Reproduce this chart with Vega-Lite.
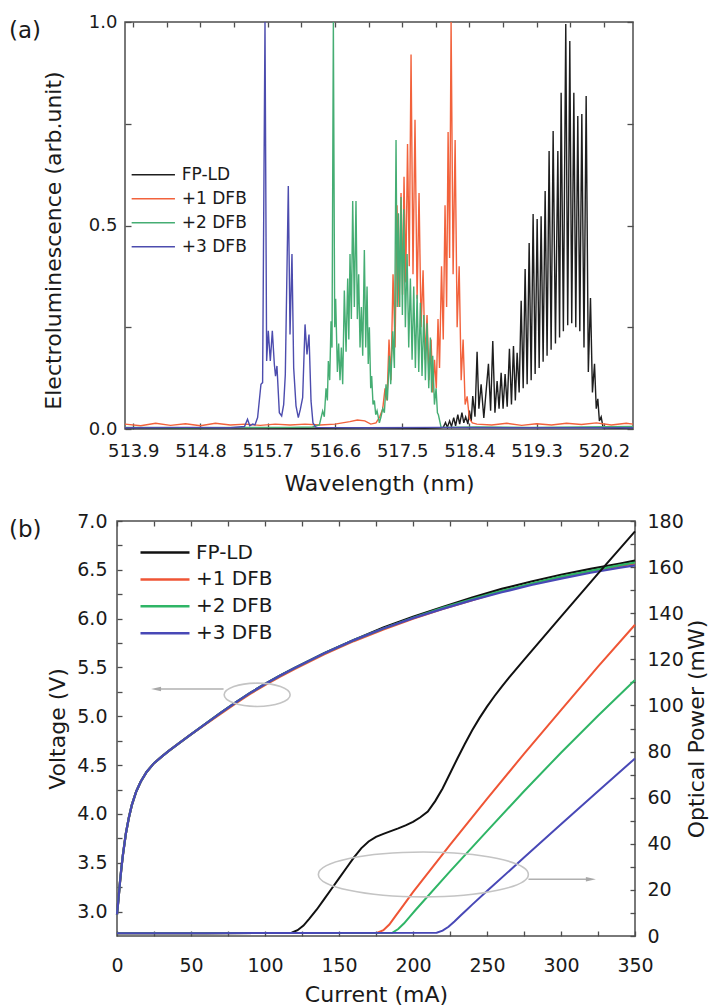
{
  "$schema": "https://vega.github.io/schema/vega-lite/v6.json",
  "background": "white",
  "padding": {"left": 8, "top": 12, "right": 0, "bottom": 0},
  "spacing": 16,
  "config": {
    "font": "DejaVu Sans",
    "view": {"stroke": "#4d4d4d", "strokeWidth": 1.5},
    "axis": {"domain": false, "grid": false, "tickColor": "#4d4d4d", "tickWidth": 1.3, "labelColor": "#1a1a1a", "titleColor": "#1a1a1a", "titleFontWeight": "normal", "labelFlush": false, "labelOverlap": false, "labelBound": false},
    "legend": {"labelColor": "#1a1a1a"},
    "title": {"fontWeight": "normal", "color": "#1a1a1a"}
  },
  "resolve": {"scale": {"color": "independent"}, "legend": {"color": "independent"}},
  "datasets": {
    "spec": [
      {"s":"FP-LD","w":513.79,"v":0.003},{"s":"FP-LD","w":514.6,"v":0.002},{"s":"FP-LD","w":515.4,"v":0.003},{"s":"FP-LD","w":516.2,"v":0.002},{"s":"FP-LD","w":517.0,"v":0.003},{"s":"FP-LD","w":517.8,"v":0.002},{"s":"FP-LD","w":518.0,"v":0.003},{"s":"FP-LD","w":518.05,"v":0.004},{"s":"FP-LD","w":518.08,"v":0.016},{"s":"FP-LD","w":518.105,"v":0.004},{"s":"FP-LD","w":518.135,"v":0.02},{"s":"FP-LD","w":518.16,"v":0.006},{"s":"FP-LD","w":518.19,"v":0.028},{"s":"FP-LD","w":518.215,"v":0.008},{"s":"FP-LD","w":518.245,"v":0.035},{"s":"FP-LD","w":518.27,"v":0.012},{"s":"FP-LD","w":518.3,"v":0.04},{"s":"FP-LD","w":518.325,"v":0.015},{"s":"FP-LD","w":518.35,"v":0.03},{"s":"FP-LD","w":518.38,"v":0.012},{"s":"FP-LD","w":518.4,"v":0.045},{"s":"FP-LD","w":518.425,"v":0.02},{"s":"FP-LD","w":518.445,"v":0.081},{"s":"FP-LD","w":518.475,"v":0.03},{"s":"FP-LD","w":518.503,"v":0.19},{"s":"FP-LD","w":518.527,"v":0.05},{"s":"FP-LD","w":518.557,"v":0.11},{"s":"FP-LD","w":518.593,"v":0.027},{"s":"FP-LD","w":518.655,"v":0.16},{"s":"FP-LD","w":518.684,"v":0.045},{"s":"FP-LD","w":518.713,"v":0.216},{"s":"FP-LD","w":518.742,"v":0.04},{"s":"FP-LD","w":518.771,"v":0.118},{"s":"FP-LD","w":518.797,"v":0.05},{"s":"FP-LD","w":518.825,"v":0.138},{"s":"FP-LD","w":518.851,"v":0.05},{"s":"FP-LD","w":518.878,"v":0.135},{"s":"FP-LD","w":518.906,"v":0.055},{"s":"FP-LD","w":518.936,"v":0.197},{"s":"FP-LD","w":518.963,"v":0.06},{"s":"FP-LD","w":518.99,"v":0.204},{"s":"FP-LD","w":519.015,"v":0.07},{"s":"FP-LD","w":519.039,"v":0.187},{"s":"FP-LD","w":519.066,"v":0.09},{"s":"FP-LD","w":519.093,"v":0.315},{"s":"FP-LD","w":519.12,"v":0.1},{"s":"FP-LD","w":519.146,"v":0.393},{"s":"FP-LD","w":519.173,"v":0.11},{"s":"FP-LD","w":519.2,"v":0.457},{"s":"FP-LD","w":519.227,"v":0.12},{"s":"FP-LD","w":519.253,"v":0.528},{"s":"FP-LD","w":519.28,"v":0.135},{"s":"FP-LD","w":519.307,"v":0.516},{"s":"FP-LD","w":519.334,"v":0.15},{"s":"FP-LD","w":519.36,"v":0.523},{"s":"FP-LD","w":519.387,"v":0.165},{"s":"FP-LD","w":519.414,"v":0.585},{"s":"FP-LD","w":519.44,"v":0.18},{"s":"FP-LD","w":519.467,"v":0.683},{"s":"FP-LD","w":519.494,"v":0.195},{"s":"FP-LD","w":519.521,"v":0.732},{"s":"FP-LD","w":519.552,"v":0.21},{"s":"FP-LD","w":519.584,"v":0.683},{"s":"FP-LD","w":519.607,"v":0.225},{"s":"FP-LD","w":519.628,"v":0.826},{"s":"FP-LD","w":519.658,"v":0.24},{"s":"FP-LD","w":519.69,"v":0.995},{"s":"FP-LD","w":519.716,"v":0.255},{"s":"FP-LD","w":519.744,"v":0.953},{"s":"FP-LD","w":519.77,"v":0.26},{"s":"FP-LD","w":519.798,"v":0.826},{"s":"FP-LD","w":519.824,"v":0.25},{"s":"FP-LD","w":519.851,"v":0.769},{"s":"FP-LD","w":519.878,"v":0.24},{"s":"FP-LD","w":519.905,"v":0.774},{"s":"FP-LD","w":519.934,"v":0.2},{"s":"FP-LD","w":519.963,"v":0.818},{"s":"FP-LD","w":519.992,"v":0.14},{"s":"FP-LD","w":520.021,"v":0.322},{"s":"FP-LD","w":520.047,"v":0.09},{"s":"FP-LD","w":520.075,"v":0.16},{"s":"FP-LD","w":520.098,"v":0.05},{"s":"FP-LD","w":520.119,"v":0.074},{"s":"FP-LD","w":520.14,"v":0.02},{"s":"FP-LD","w":520.164,"v":0.03},{"s":"FP-LD","w":520.19,"v":0.003},{"s":"FP-LD","w":520.4,"v":0.002},{"s":"FP-LD","w":520.59,"v":0.003},
      {"s":"+1 DFB","w":513.79,"v":0.012},{"s":"+1 DFB","w":514.0,"v":0.008},{"s":"+1 DFB","w":514.2,"v":0.014},{"s":"+1 DFB","w":514.4,"v":0.009},{"s":"+1 DFB","w":514.6,"v":0.013},{"s":"+1 DFB","w":514.8,"v":0.008},{"s":"+1 DFB","w":515.0,"v":0.014},{"s":"+1 DFB","w":515.2,"v":0.01},{"s":"+1 DFB","w":515.4,"v":0.012},{"s":"+1 DFB","w":515.6,"v":0.009},{"s":"+1 DFB","w":515.8,"v":0.012},{"s":"+1 DFB","w":516.0,"v":0.01},{"s":"+1 DFB","w":516.2,"v":0.012},{"s":"+1 DFB","w":516.4,"v":0.01},{"s":"+1 DFB","w":516.6,"v":0.012},{"s":"+1 DFB","w":516.8,"v":0.018},{"s":"+1 DFB","w":516.9,"v":0.022},{"s":"+1 DFB","w":517.0,"v":0.02},{"s":"+1 DFB","w":517.08,"v":0.012},{"s":"+1 DFB","w":517.15,"v":0.015},{"s":"+1 DFB","w":517.2,"v":0.03},{"s":"+1 DFB","w":517.24,"v":0.05},{"s":"+1 DFB","w":517.271,"v":0.1},{"s":"+1 DFB","w":517.297,"v":0.07},{"s":"+1 DFB","w":517.324,"v":0.22},{"s":"+1 DFB","w":517.35,"v":0.12},{"s":"+1 DFB","w":517.378,"v":0.38},{"s":"+1 DFB","w":517.405,"v":0.2},{"s":"+1 DFB","w":517.431,"v":0.55},{"s":"+1 DFB","w":517.458,"v":0.3},{"s":"+1 DFB","w":517.485,"v":0.58},{"s":"+1 DFB","w":517.505,"v":0.33},{"s":"+1 DFB","w":517.525,"v":0.62},{"s":"+1 DFB","w":517.548,"v":0.36},{"s":"+1 DFB","w":517.572,"v":0.7},{"s":"+1 DFB","w":517.595,"v":0.4},{"s":"+1 DFB","w":517.619,"v":0.92},{"s":"+1 DFB","w":517.645,"v":0.38},{"s":"+1 DFB","w":517.672,"v":0.76},{"s":"+1 DFB","w":517.7,"v":0.32},{"s":"+1 DFB","w":517.726,"v":0.58},{"s":"+1 DFB","w":517.753,"v":0.25},{"s":"+1 DFB","w":517.78,"v":0.39},{"s":"+1 DFB","w":517.806,"v":0.17},{"s":"+1 DFB","w":517.833,"v":0.28},{"s":"+1 DFB","w":517.86,"v":0.12},{"s":"+1 DFB","w":517.887,"v":0.22},{"s":"+1 DFB","w":517.91,"v":0.09},{"s":"+1 DFB","w":517.933,"v":0.17},{"s":"+1 DFB","w":517.957,"v":0.1},{"s":"+1 DFB","w":517.98,"v":0.27},{"s":"+1 DFB","w":518.0,"v":0.15},{"s":"+1 DFB","w":518.027,"v":0.4},{"s":"+1 DFB","w":518.05,"v":0.22},{"s":"+1 DFB","w":518.074,"v":0.55},{"s":"+1 DFB","w":518.095,"v":0.3},{"s":"+1 DFB","w":518.115,"v":0.73},{"s":"+1 DFB","w":518.135,"v":0.42},{"s":"+1 DFB","w":518.155,"v":1.0},{"s":"+1 DFB","w":518.182,"v":0.38},{"s":"+1 DFB","w":518.209,"v":0.71},{"s":"+1 DFB","w":518.236,"v":0.25},{"s":"+1 DFB","w":518.263,"v":0.4},{"s":"+1 DFB","w":518.29,"v":0.12},{"s":"+1 DFB","w":518.316,"v":0.22},{"s":"+1 DFB","w":518.343,"v":0.06},{"s":"+1 DFB","w":518.37,"v":0.08},{"s":"+1 DFB","w":518.4,"v":0.025},{"s":"+1 DFB","w":518.44,"v":0.015},{"s":"+1 DFB","w":518.5,"v":0.012},{"s":"+1 DFB","w":518.7,"v":0.01},{"s":"+1 DFB","w":518.9,"v":0.014},{"s":"+1 DFB","w":519.1,"v":0.009},{"s":"+1 DFB","w":519.3,"v":0.013},{"s":"+1 DFB","w":519.5,"v":0.01},{"s":"+1 DFB","w":519.7,"v":0.014},{"s":"+1 DFB","w":519.9,"v":0.011},{"s":"+1 DFB","w":520.1,"v":0.015},{"s":"+1 DFB","w":520.3,"v":0.01},{"s":"+1 DFB","w":520.5,"v":0.014},{"s":"+1 DFB","w":520.59,"v":0.012},
      {"s":"+2 DFB","w":513.79,"v":0.004},{"s":"+2 DFB","w":514.6,"v":0.003},{"s":"+2 DFB","w":515.4,"v":0.004},{"s":"+2 DFB","w":516.0,"v":0.004},{"s":"+2 DFB","w":516.3,"v":0.005},{"s":"+2 DFB","w":516.392,"v":0.01},{"s":"+2 DFB","w":516.436,"v":0.044},{"s":"+2 DFB","w":516.458,"v":0.03},{"s":"+2 DFB","w":516.481,"v":0.1},{"s":"+2 DFB","w":516.499,"v":0.07},{"s":"+2 DFB","w":516.512,"v":0.167},{"s":"+2 DFB","w":516.53,"v":0.12},{"s":"+2 DFB","w":516.548,"v":0.265},{"s":"+2 DFB","w":516.561,"v":0.2},{"s":"+2 DFB","w":516.579,"v":1.0},{"s":"+2 DFB","w":516.597,"v":0.25},{"s":"+2 DFB","w":516.61,"v":0.32},{"s":"+2 DFB","w":516.633,"v":0.14},{"s":"+2 DFB","w":516.65,"v":0.21},{"s":"+2 DFB","w":516.668,"v":0.12},{"s":"+2 DFB","w":516.686,"v":0.2},{"s":"+2 DFB","w":516.704,"v":0.11},{"s":"+2 DFB","w":516.726,"v":0.34},{"s":"+2 DFB","w":516.749,"v":0.19},{"s":"+2 DFB","w":516.771,"v":0.37},{"s":"+2 DFB","w":516.786,"v":0.22},{"s":"+2 DFB","w":516.802,"v":0.43},{"s":"+2 DFB","w":516.82,"v":0.27},{"s":"+2 DFB","w":516.838,"v":0.56},{"s":"+2 DFB","w":516.86,"v":0.3},{"s":"+2 DFB","w":516.882,"v":0.56},{"s":"+2 DFB","w":516.9,"v":0.27},{"s":"+2 DFB","w":516.918,"v":0.38},{"s":"+2 DFB","w":516.936,"v":0.2},{"s":"+2 DFB","w":516.954,"v":0.3},{"s":"+2 DFB","w":516.972,"v":0.18},{"s":"+2 DFB","w":516.994,"v":0.44},{"s":"+2 DFB","w":517.012,"v":0.2},{"s":"+2 DFB","w":517.03,"v":0.35},{"s":"+2 DFB","w":517.046,"v":0.16},{"s":"+2 DFB","w":517.061,"v":0.25},{"s":"+2 DFB","w":517.079,"v":0.1},{"s":"+2 DFB","w":517.092,"v":0.13},{"s":"+2 DFB","w":517.11,"v":0.06},{"s":"+2 DFB","w":517.128,"v":0.07},{"s":"+2 DFB","w":517.146,"v":0.035},{"s":"+2 DFB","w":517.164,"v":0.045},{"s":"+2 DFB","w":517.195,"v":0.015},{"s":"+2 DFB","w":517.217,"v":0.03},{"s":"+2 DFB","w":517.24,"v":0.05},{"s":"+2 DFB","w":517.262,"v":0.04},{"s":"+2 DFB","w":517.284,"v":0.11},{"s":"+2 DFB","w":517.302,"v":0.07},{"s":"+2 DFB","w":517.329,"v":0.18},{"s":"+2 DFB","w":517.347,"v":0.11},{"s":"+2 DFB","w":517.374,"v":0.24},{"s":"+2 DFB","w":517.396,"v":0.15},{"s":"+2 DFB","w":517.418,"v":0.71},{"s":"+2 DFB","w":517.434,"v":0.3},{"s":"+2 DFB","w":517.45,"v":0.53},{"s":"+2 DFB","w":517.467,"v":0.3},{"s":"+2 DFB","w":517.485,"v":0.57},{"s":"+2 DFB","w":517.503,"v":0.28},{"s":"+2 DFB","w":517.521,"v":0.54},{"s":"+2 DFB","w":517.543,"v":0.25},{"s":"+2 DFB","w":517.566,"v":0.43},{"s":"+2 DFB","w":517.588,"v":0.2},{"s":"+2 DFB","w":517.61,"v":0.37},{"s":"+2 DFB","w":517.633,"v":0.17},{"s":"+2 DFB","w":517.655,"v":0.35},{"s":"+2 DFB","w":517.677,"v":0.15},{"s":"+2 DFB","w":517.7,"v":0.33},{"s":"+2 DFB","w":517.722,"v":0.14},{"s":"+2 DFB","w":517.744,"v":0.31},{"s":"+2 DFB","w":517.766,"v":0.13},{"s":"+2 DFB","w":517.789,"v":0.28},{"s":"+2 DFB","w":517.811,"v":0.12},{"s":"+2 DFB","w":517.833,"v":0.26},{"s":"+2 DFB","w":517.856,"v":0.1},{"s":"+2 DFB","w":517.878,"v":0.225},{"s":"+2 DFB","w":517.894,"v":0.09},{"s":"+2 DFB","w":517.909,"v":0.18},{"s":"+2 DFB","w":517.932,"v":0.06},{"s":"+2 DFB","w":517.954,"v":0.1},{"s":"+2 DFB","w":517.972,"v":0.04},{"s":"+2 DFB","w":517.985,"v":0.035},{"s":"+2 DFB","w":518.021,"v":0.004},{"s":"+2 DFB","w":518.5,"v":0.005},{"s":"+2 DFB","w":519.2,"v":0.004},{"s":"+2 DFB","w":519.9,"v":0.005},{"s":"+2 DFB","w":520.59,"v":0.006},
      {"s":"+3 DFB","w":513.79,"v":0.003},{"s":"+3 DFB","w":514.6,"v":0.004},{"s":"+3 DFB","w":515.2,"v":0.003},{"s":"+3 DFB","w":515.39,"v":0.006},{"s":"+3 DFB","w":515.43,"v":0.024},{"s":"+3 DFB","w":515.46,"v":0.008},{"s":"+3 DFB","w":515.5,"v":0.012},{"s":"+3 DFB","w":515.53,"v":0.01},{"s":"+3 DFB","w":515.565,"v":0.028},{"s":"+3 DFB","w":515.61,"v":0.11},{"s":"+3 DFB","w":515.632,"v":0.114},{"s":"+3 DFB","w":515.664,"v":1.0},{"s":"+3 DFB","w":515.686,"v":0.167},{"s":"+3 DFB","w":515.708,"v":0.241},{"s":"+3 DFB","w":515.735,"v":0.167},{"s":"+3 DFB","w":515.762,"v":0.241},{"s":"+3 DFB","w":515.789,"v":0.159},{"s":"+3 DFB","w":515.805,"v":0.13},{"s":"+3 DFB","w":515.824,"v":0.155},{"s":"+3 DFB","w":515.856,"v":0.04},{"s":"+3 DFB","w":515.887,"v":0.032},{"s":"+3 DFB","w":515.914,"v":0.06},{"s":"+3 DFB","w":515.936,"v":0.134},{"s":"+3 DFB","w":515.976,"v":0.597},{"s":"+3 DFB","w":515.999,"v":0.232},{"s":"+3 DFB","w":516.025,"v":0.43},{"s":"+3 DFB","w":516.048,"v":0.15},{"s":"+3 DFB","w":516.079,"v":0.057},{"s":"+3 DFB","w":516.11,"v":0.028},{"s":"+3 DFB","w":516.137,"v":0.048},{"s":"+3 DFB","w":516.168,"v":0.077},{"s":"+3 DFB","w":516.2,"v":0.257},{"s":"+3 DFB","w":516.226,"v":0.183},{"s":"+3 DFB","w":516.253,"v":0.232},{"s":"+3 DFB","w":516.28,"v":0.069},{"s":"+3 DFB","w":516.306,"v":0.015},{"s":"+3 DFB","w":516.347,"v":0.004},{"s":"+3 DFB","w":517.0,"v":0.003},{"s":"+3 DFB","w":518.0,"v":0.004},{"s":"+3 DFB","w":519.0,"v":0.003},{"s":"+3 DFB","w":520.59,"v":0.003}
    ],
    "iv": [
      {"s":"FP-LD","i":0,"v":2.97},{"s":"FP-LD","i":1,"v":3.13},{"s":"FP-LD","i":2,"v":3.3},{"s":"FP-LD","i":3,"v":3.45},{"s":"FP-LD","i":4,"v":3.58},{"s":"FP-LD","i":6,"v":3.8},{"s":"FP-LD","i":8,"v":3.96},{"s":"FP-LD","i":10,"v":4.09},{"s":"FP-LD","i":13,"v":4.23},{"s":"FP-LD","i":16,"v":4.33},{"s":"FP-LD","i":20,"v":4.43},{"s":"FP-LD","i":25,"v":4.52},{"s":"FP-LD","i":30,"v":4.585},{"s":"FP-LD","i":35,"v":4.645},{"s":"FP-LD","i":42,"v":4.725},{"s":"FP-LD","i":50,"v":4.815},{"s":"FP-LD","i":60,"v":4.925},{"s":"FP-LD","i":70,"v":5.035},{"s":"FP-LD","i":80,"v":5.14},{"s":"FP-LD","i":90,"v":5.24},{"s":"FP-LD","i":100,"v":5.33},{"s":"FP-LD","i":110,"v":5.415},{"s":"FP-LD","i":120,"v":5.495},{"s":"FP-LD","i":140,"v":5.645},{"s":"FP-LD","i":160,"v":5.78},{"s":"FP-LD","i":180,"v":5.91},{"s":"FP-LD","i":200,"v":6.02},{"s":"FP-LD","i":220,"v":6.12},{"s":"FP-LD","i":240,"v":6.215},{"s":"FP-LD","i":260,"v":6.305},{"s":"FP-LD","i":280,"v":6.38},{"s":"FP-LD","i":300,"v":6.45},{"s":"FP-LD","i":320,"v":6.51},{"s":"FP-LD","i":340,"v":6.565},{"s":"FP-LD","i":350,"v":6.595},
      {"s":"+1 DFB","i":0,"v":2.97},{"s":"+1 DFB","i":1,"v":3.13},{"s":"+1 DFB","i":2,"v":3.3},{"s":"+1 DFB","i":3,"v":3.45},{"s":"+1 DFB","i":4,"v":3.58},{"s":"+1 DFB","i":6,"v":3.8},{"s":"+1 DFB","i":8,"v":3.96},{"s":"+1 DFB","i":10,"v":4.09},{"s":"+1 DFB","i":13,"v":4.23},{"s":"+1 DFB","i":16,"v":4.33},{"s":"+1 DFB","i":20,"v":4.43},{"s":"+1 DFB","i":25,"v":4.52},{"s":"+1 DFB","i":30,"v":4.585},{"s":"+1 DFB","i":35,"v":4.645},{"s":"+1 DFB","i":42,"v":4.725},{"s":"+1 DFB","i":50,"v":4.815},{"s":"+1 DFB","i":60,"v":4.92},{"s":"+1 DFB","i":70,"v":5.025},{"s":"+1 DFB","i":80,"v":5.13},{"s":"+1 DFB","i":90,"v":5.23},{"s":"+1 DFB","i":100,"v":5.32},{"s":"+1 DFB","i":110,"v":5.405},{"s":"+1 DFB","i":120,"v":5.485},{"s":"+1 DFB","i":140,"v":5.635},{"s":"+1 DFB","i":160,"v":5.77},{"s":"+1 DFB","i":180,"v":5.89},{"s":"+1 DFB","i":200,"v":6.0},{"s":"+1 DFB","i":220,"v":6.1},{"s":"+1 DFB","i":240,"v":6.19},{"s":"+1 DFB","i":260,"v":6.28},{"s":"+1 DFB","i":280,"v":6.355},{"s":"+1 DFB","i":300,"v":6.425},{"s":"+1 DFB","i":320,"v":6.485},{"s":"+1 DFB","i":340,"v":6.54},{"s":"+1 DFB","i":350,"v":6.565},
      {"s":"+2 DFB","i":0,"v":2.97},{"s":"+2 DFB","i":1,"v":3.13},{"s":"+2 DFB","i":2,"v":3.3},{"s":"+2 DFB","i":3,"v":3.45},{"s":"+2 DFB","i":4,"v":3.58},{"s":"+2 DFB","i":6,"v":3.8},{"s":"+2 DFB","i":8,"v":3.96},{"s":"+2 DFB","i":10,"v":4.09},{"s":"+2 DFB","i":13,"v":4.23},{"s":"+2 DFB","i":16,"v":4.33},{"s":"+2 DFB","i":20,"v":4.43},{"s":"+2 DFB","i":25,"v":4.52},{"s":"+2 DFB","i":30,"v":4.585},{"s":"+2 DFB","i":35,"v":4.645},{"s":"+2 DFB","i":42,"v":4.725},{"s":"+2 DFB","i":50,"v":4.815},{"s":"+2 DFB","i":60,"v":4.925},{"s":"+2 DFB","i":70,"v":5.035},{"s":"+2 DFB","i":80,"v":5.14},{"s":"+2 DFB","i":90,"v":5.24},{"s":"+2 DFB","i":100,"v":5.33},{"s":"+2 DFB","i":110,"v":5.415},{"s":"+2 DFB","i":120,"v":5.495},{"s":"+2 DFB","i":140,"v":5.645},{"s":"+2 DFB","i":160,"v":5.78},{"s":"+2 DFB","i":180,"v":5.9},{"s":"+2 DFB","i":200,"v":6.01},{"s":"+2 DFB","i":220,"v":6.11},{"s":"+2 DFB","i":240,"v":6.2},{"s":"+2 DFB","i":260,"v":6.285},{"s":"+2 DFB","i":280,"v":6.36},{"s":"+2 DFB","i":300,"v":6.43},{"s":"+2 DFB","i":320,"v":6.49},{"s":"+2 DFB","i":340,"v":6.548},{"s":"+2 DFB","i":350,"v":6.575},
      {"s":"+3 DFB","i":0,"v":2.97},{"s":"+3 DFB","i":1,"v":3.13},{"s":"+3 DFB","i":2,"v":3.3},{"s":"+3 DFB","i":3,"v":3.45},{"s":"+3 DFB","i":4,"v":3.58},{"s":"+3 DFB","i":6,"v":3.8},{"s":"+3 DFB","i":8,"v":3.96},{"s":"+3 DFB","i":10,"v":4.09},{"s":"+3 DFB","i":13,"v":4.23},{"s":"+3 DFB","i":16,"v":4.33},{"s":"+3 DFB","i":20,"v":4.43},{"s":"+3 DFB","i":25,"v":4.52},{"s":"+3 DFB","i":30,"v":4.585},{"s":"+3 DFB","i":35,"v":4.645},{"s":"+3 DFB","i":42,"v":4.725},{"s":"+3 DFB","i":50,"v":4.815},{"s":"+3 DFB","i":60,"v":4.925},{"s":"+3 DFB","i":70,"v":5.035},{"s":"+3 DFB","i":80,"v":5.14},{"s":"+3 DFB","i":90,"v":5.24},{"s":"+3 DFB","i":100,"v":5.33},{"s":"+3 DFB","i":110,"v":5.415},{"s":"+3 DFB","i":120,"v":5.495},{"s":"+3 DFB","i":140,"v":5.645},{"s":"+3 DFB","i":160,"v":5.78},{"s":"+3 DFB","i":180,"v":5.9},{"s":"+3 DFB","i":200,"v":6.005},{"s":"+3 DFB","i":220,"v":6.1},{"s":"+3 DFB","i":240,"v":6.19},{"s":"+3 DFB","i":260,"v":6.27},{"s":"+3 DFB","i":280,"v":6.345},{"s":"+3 DFB","i":300,"v":6.41},{"s":"+3 DFB","i":320,"v":6.47},{"s":"+3 DFB","i":340,"v":6.522},{"s":"+3 DFB","i":350,"v":6.545}
    ],
    "liv": [
      {"s":"FP-LD","i":0,"p":1.2},{"s":"FP-LD","i":60,"p":1.2},{"s":"FP-LD","i":118,"p":1.4},{"s":"FP-LD","i":122,"p":2.5},{"s":"FP-LD","i":126,"p":4.5},{"s":"FP-LD","i":130,"p":7.5},{"s":"FP-LD","i":135,"p":11.5},{"s":"FP-LD","i":140,"p":16},{"s":"FP-LD","i":145,"p":20.5},{"s":"FP-LD","i":150,"p":25},{"s":"FP-LD","i":155,"p":29.5},{"s":"FP-LD","i":160,"p":34},{"s":"FP-LD","i":165,"p":38},{"s":"FP-LD","i":170,"p":41},{"s":"FP-LD","i":175,"p":43},{"s":"FP-LD","i":180,"p":44.3},{"s":"FP-LD","i":185,"p":45.5},{"s":"FP-LD","i":190,"p":46.7},{"s":"FP-LD","i":195,"p":48},{"s":"FP-LD","i":200,"p":49.5},{"s":"FP-LD","i":205,"p":51.5},{"s":"FP-LD","i":210,"p":54},{"s":"FP-LD","i":215,"p":58.5},{"s":"FP-LD","i":220,"p":64},{"s":"FP-LD","i":225,"p":70.5},{"s":"FP-LD","i":230,"p":77},{"s":"FP-LD","i":235,"p":83.3},{"s":"FP-LD","i":240,"p":89.2},{"s":"FP-LD","i":245,"p":94.6},{"s":"FP-LD","i":250,"p":99.5},{"s":"FP-LD","i":255,"p":104},{"s":"FP-LD","i":260,"p":108.2},{"s":"FP-LD","i":265,"p":112.2},{"s":"FP-LD","i":270,"p":116},{"s":"FP-LD","i":275,"p":119.8},{"s":"FP-LD","i":300,"p":138.5},{"s":"FP-LD","i":325,"p":157.2},{"s":"FP-LD","i":350,"p":175.5},
      {"s":"+1 DFB","i":0,"p":1.2},{"s":"+1 DFB","i":60,"p":1.2},{"s":"+1 DFB","i":120,"p":1.3},{"s":"+1 DFB","i":176,"p":1.4},{"s":"+1 DFB","i":180,"p":2.5},{"s":"+1 DFB","i":184,"p":5},{"s":"+1 DFB","i":188,"p":8.5},{"s":"+1 DFB","i":192,"p":12},{"s":"+1 DFB","i":200,"p":19},{"s":"+1 DFB","i":225,"p":39.5},{"s":"+1 DFB","i":250,"p":59.5},{"s":"+1 DFB","i":275,"p":79},{"s":"+1 DFB","i":300,"p":98},{"s":"+1 DFB","i":325,"p":116.8},{"s":"+1 DFB","i":350,"p":135},
      {"s":"+2 DFB","i":0,"p":1.2},{"s":"+2 DFB","i":60,"p":1.2},{"s":"+2 DFB","i":120,"p":1.3},{"s":"+2 DFB","i":186,"p":1.4},{"s":"+2 DFB","i":190,"p":3},{"s":"+2 DFB","i":194,"p":5.5},{"s":"+2 DFB","i":198,"p":8.5},{"s":"+2 DFB","i":202,"p":11.5},{"s":"+2 DFB","i":225,"p":28},{"s":"+2 DFB","i":250,"p":45.5},{"s":"+2 DFB","i":275,"p":62.8},{"s":"+2 DFB","i":300,"p":79.5},{"s":"+2 DFB","i":325,"p":95.5},{"s":"+2 DFB","i":350,"p":111},
      {"s":"+3 DFB","i":0,"p":1.2},{"s":"+3 DFB","i":60,"p":1.2},{"s":"+3 DFB","i":120,"p":1.3},{"s":"+3 DFB","i":216,"p":1.4},{"s":"+3 DFB","i":220,"p":2.3},{"s":"+3 DFB","i":224,"p":4},{"s":"+3 DFB","i":228,"p":6.3},{"s":"+3 DFB","i":232,"p":8.8},{"s":"+3 DFB","i":236,"p":11.2},{"s":"+3 DFB","i":240,"p":13.6},{"s":"+3 DFB","i":250,"p":19.5},{"s":"+3 DFB","i":275,"p":34},{"s":"+3 DFB","i":300,"p":48.5},{"s":"+3 DFB","i":325,"p":62.8},{"s":"+3 DFB","i":350,"p":77}
    ],
    "e1": [{"i":94.7,"v":5.22}],
    "a1": [{"i1":72,"i2":26,"v":5.28}],
    "h1": [{"i":26.4,"v":5.28}],
    "e2": [{"i":207,"p":26.7}],
    "a2": [{"i1":278,"i2":320,"p":24.6}],
    "h2": [{"i":320.2,"p":24.6}]
  },
  "vconcat": [
    {"hconcat": [
    {
      "width": 8,
      "height": 407,
      "view": {"stroke": null},
      "data": {"name": "e1"},
      "mark": {"type": "point", "opacity": 0},
      "encoding": {}
    },
    {
      "width": 508,
      "height": 407,
      "title": {"text": "(a)", "anchor": "start", "frame": "group", "dx": -116, "dy": 30, "offset": 0, "fontSize": 23},
      "resolve": {"axis": {"x": "independent", "y": "independent"}},
      "layer": [
        {
          "data": {"name": "spec"},
          "mark": {"type": "line", "strokeWidth": 1.4, "clip": true},
          "encoding": {
            "x": {"field": "w", "type": "quantitative", "scale": {"domain": [513.79, 520.59], "nice": false, "zero": false},
                  "axis": {"orient": "bottom", "values": [513.9, 514.8, 515.7, 516.6, 517.5, 518.4, 519.3, 520.2], "format": ".1f", "tickSize": -6, "labelPadding": 19, "labelFontSize": 18, "title": "Wavelength (nm)", "titleFontSize": 22, "titlePadding": 13}},
            "y": {"field": "v", "type": "quantitative", "scale": {"domain": [0, 1], "nice": false},
                  "axis": {"orient": "left", "values": [0, 0.25, 0.5, 0.75, 1], "labelExpr": "(datum.value * 2) % 1 == 0 ? format(datum.value, '.1f') : ''", "tickSize": -6, "labelPadding": 14, "labelFontSize": 18, "title": "Electroluminescence (arb.unit)", "titleFontSize": 22, "titlePadding": 23, "titleY": 218}},
            "color": {"field": "s", "type": "nominal",
                      "scale": {"domain": ["FP-LD", "+1 DFB", "+2 DFB", "+3 DFB"], "range": ["#1e1e1e", "#f2623c", "#45ad73", "#4c4cae"]},
                      "legend": {"title": null, "orient": "none", "legendX": 26.8, "legendY": 143.3, "symbolType": "M -2.5 0 L 2.5 0", "symbolSize": 300, "symbolStrokeWidth": 1.6, "labelFontSize": 17, "labelOffset": 19, "rowPadding": 6.0, "padding": 0, "labelLimit": 300}}
          }
        },
        {
          "data": {"name": "spec"},
          "mark": {"type": "point", "opacity": 0},
          "encoding": {
            "x": {"field": "w", "type": "quantitative", "scale": {"domain": [513.79, 520.59], "nice": false, "zero": false},
                  "axis": {"orient": "top", "values": [513.9, 514.35, 514.8, 515.25, 515.7, 516.15, 516.6, 517.05, 517.5, 517.95, 518.4, 518.85, 519.3, 519.75, 520.2], "labels": false, "tickSize": -5, "title": null}},
            "y": {"field": "v", "type": "quantitative", "scale": {"domain": [0, 1], "nice": false},
                  "axis": {"orient": "right", "values": [0, 0.25, 0.5, 0.75, 1], "labels": false, "tickSize": -6, "title": null}}
          }
        }
      ]
    }], "spacing": 0, "bounds": "flush"},
    {"hconcat": [
    {
      "width": 518,
      "height": 415,
      "title": {"text": "(b)", "anchor": "start", "frame": "group", "dx": -108, "dy": 30, "offset": 0, "fontSize": 23},
      "resolve": {"scale": {"y": "independent"}, "axis": {"x": "independent", "y": "independent"}},
      "layer": [
        {
          "data": {"name": "iv"},
          "mark": {"type": "line", "strokeWidth": 2.2},
          "encoding": {
            "x": {"field": "i", "type": "quantitative", "scale": {"domain": [0, 350], "nice": false},
                  "axis": {"orient": "bottom", "values": [0, 25, 50, 75, 100, 125, 150, 175, 200, 225, 250, 275, 300, 325, 350], "labelExpr": "datum.value % 50 == 0 ? datum.label : ''", "tickSize": -5, "labelPadding": 25, "labelFontSize": 19, "title": "Current (mA)", "titleFontSize": 22, "titlePadding": 9}},
            "y": {"field": "v", "type": "quantitative", "scale": {"domain": [2.75, 7.0], "nice": false, "zero": false},
                  "axis": {"orient": "left", "values": [3, 3.25, 3.5, 3.75, 4, 4.25, 4.5, 4.75, 5, 5.25, 5.5, 5.75, 6, 6.25, 6.5, 6.75, 7], "labelExpr": "(datum.value * 2) % 1 == 0 ? format(datum.value, '.1f') : ''", "tickSize": -5, "labelPadding": 15, "labelFontSize": 19, "title": "Voltage (V)", "titleFontSize": 22, "titlePadding": 8, "titleX": -48, "titleY": 207.5, "titleAngle": 270, "titleBaseline": "bottom", "titleAlign": "center"}},
            "color": {"field": "s", "type": "nominal",
                      "scale": {"domain": ["FP-LD", "+1 DFB", "+2 DFB", "+3 DFB"], "range": ["#111111", "#ef5535", "#2fb566", "#4848b6"]},
                      "legend": {"title": null, "orient": "none", "legendX": 36.5, "legendY": 20, "symbolType": "M -2.45 0 L 2.45 0", "symbolSize": 400, "symbolStrokeWidth": 2.5, "labelFontSize": 20, "labelOffset": 19.5, "rowPadding": 4.9, "padding": 0, "labelLimit": 300}}
          }
        },
        {
          "data": {"name": "liv"},
          "mark": {"type": "line", "strokeWidth": 2},
          "encoding": {
            "x": {"field": "i", "type": "quantitative", "scale": {"domain": [0, 350], "nice": false},
                  "axis": {"orient": "top", "values": [0, 25, 50, 75, 100, 125, 150, 175, 200, 225, 250, 275, 300, 325, 350], "labels": false, "tickSize": -5, "title": null}},
            "y": {"field": "p", "type": "quantitative", "scale": {"domain": [0, 180], "nice": false},
                  "axis": {"orient": "right", "values": [0, 10, 20, 30, 40, 50, 60, 70, 80, 90, 100, 110, 120, 130, 140, 150, 160, 170, 180], "labelExpr": "datum.value % 20 == 0 ? datum.label : ''", "tickSize": -5, "labelPadding": 17, "labelFontSize": 19, "title": "Optical Power (mW)", "titleFontSize": 22, "titlePadding": 3, "titleAngle": 270, "titleBaseline": "top"}},
            "color": {"field": "s", "type": "nominal",
                      "scale": {"domain": ["FP-LD", "+1 DFB", "+2 DFB", "+3 DFB"], "range": ["#111111", "#ef5535", "#2fb566", "#4848b6"]},
                      "legend": {"title": null, "orient": "none", "legendX": 36.5, "legendY": 20, "symbolType": "M -2.45 0 L 2.45 0", "symbolSize": 400, "symbolStrokeWidth": 2.5, "labelFontSize": 20, "labelOffset": 19.5, "rowPadding": 4.9, "padding": 0, "labelLimit": 300}}
          }
        },
        {
          "data": {"name": "e1"},
          "mark": {"type": "point", "shape": "M -1 0 A 1 0.353 0 1 0 1 0 A 1 0.353 0 1 0 -1 0 Z", "size": 4356, "filled": false, "stroke": "#c4c4c4", "strokeWidth": 1.6, "opacity": 1},
          "encoding": {
            "x": {"field": "i", "type": "quantitative", "scale": {"domain": [0, 350], "nice": false}, "axis": null},
            "y": {"field": "v", "type": "quantitative", "scale": {"domain": [2.75, 7.0], "nice": false, "zero": false}, "axis": null}
          }
        },
        {
          "data": {"name": "a1"},
          "mark": {"type": "rule", "stroke": "#b0b0b0", "strokeWidth": 1.5},
          "encoding": {
            "x": {"field": "i1", "type": "quantitative", "scale": {"domain": [0, 350], "nice": false}, "axis": null},
            "x2": {"field": "i2"},
            "y": {"field": "v", "type": "quantitative", "scale": {"domain": [2.75, 7.0], "nice": false, "zero": false}, "axis": null}
          }
        },
        {
          "data": {"name": "h1"},
          "mark": {"type": "point", "shape": "M 1 -0.45 L -1 0 L 1 0.45 Z", "size": 100, "filled": true, "fill": "#a8a8a8", "strokeWidth": 0, "opacity": 1},
          "encoding": {
            "x": {"field": "i", "type": "quantitative", "scale": {"domain": [0, 350], "nice": false}, "axis": null},
            "y": {"field": "v", "type": "quantitative", "scale": {"domain": [2.75, 7.0], "nice": false, "zero": false}, "axis": null}
          }
        },
        {
          "data": {"name": "e2"},
          "mark": {"type": "point", "shape": "M -1 0 A 1 0.214 0 1 0 1 0 A 1 0.214 0 1 0 -1 0 Z", "size": 44100, "filled": false, "stroke": "#c4c4c4", "strokeWidth": 1.6, "opacity": 1},
          "encoding": {
            "x": {"field": "i", "type": "quantitative", "scale": {"domain": [0, 350], "nice": false}, "axis": null},
            "y": {"field": "p", "type": "quantitative", "scale": {"domain": [0, 180], "nice": false}, "axis": null}
          }
        },
        {
          "data": {"name": "a2"},
          "mark": {"type": "rule", "stroke": "#b0b0b0", "strokeWidth": 1.5},
          "encoding": {
            "x": {"field": "i1", "type": "quantitative", "scale": {"domain": [0, 350], "nice": false}, "axis": null},
            "x2": {"field": "i2"},
            "y": {"field": "p", "type": "quantitative", "scale": {"domain": [0, 180], "nice": false}, "axis": null}
          }
        },
        {
          "data": {"name": "h2"},
          "mark": {"type": "point", "shape": "M -1 -0.45 L 1 0 L -1 0.45 Z", "size": 100, "filled": true, "fill": "#a8a8a8", "strokeWidth": 0, "opacity": 1},
          "encoding": {
            "x": {"field": "i", "type": "quantitative", "scale": {"domain": [0, 350], "nice": false}, "axis": null},
            "y": {"field": "p", "type": "quantitative", "scale": {"domain": [0, 180], "nice": false}, "axis": null}
          }
        }
      ]
    }], "spacing": 0, "bounds": "flush"}
  ]
}
